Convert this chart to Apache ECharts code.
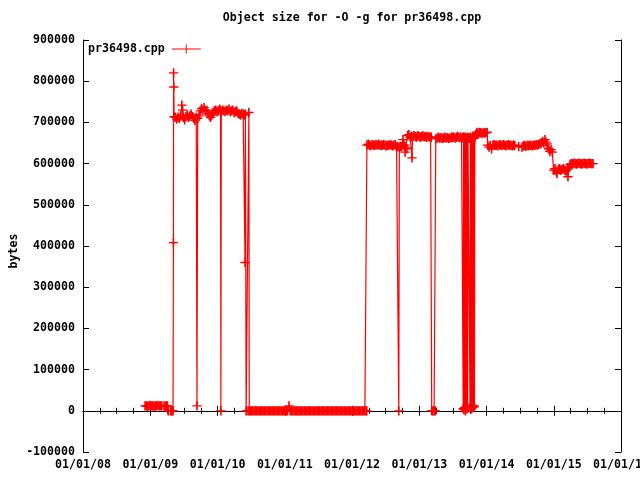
<!DOCTYPE html>
<html><head><meta charset="utf-8">
<script src="https://cdn.jsdelivr.net/npm/echarts@6/dist/echarts.min.js"></script>
<style>html,body{margin:0;padding:0;background:#fff;overflow:hidden;width:640px;height:480px}#c{width:640px;height:480px}</style>
</head><body><div id="c"></div>
<script>
// Each point: [days since 2008-01-01, object size in bytes]
const firstBuilds = [[337,12000],[344,12000],[351,11000],[358,12000],[365,13000],[372,12000],[379,12000],[386,11000],[393,12000],[400,12000],[407,13000],[414,12000],[421,12000],[428,12000],[440,12000],[447,11000],[454,12000],[459,12000],[463,0],[475,0],[480,0],[485,0],[489,0]];
const jump2009 = [[491,408000],[492,820000],[493,786000],[495,714000]];
const plateau2009 = [[502,712000],[509,708000],[516,713000],[523,710000],[530,716000],[537,742000],[541,730000],[545,712000],[552,706000],[559,714000],[566,718000],[573,712000],[580,716000],[587,720000],[594,714000],[601,710000],[608,705000],[615,712000],[619,12000],[623,710000],[630,716000],[637,728000],[644,734000],[651,730000],[658,736000],[665,728000],[672,730000],[679,721000],[686,716000],[693,712000],[700,718000],[707,724000],[714,728000],[721,730000],[728,726000],[735,728000],[742,732000],[747,728000],[749,0],[751,726000],[758,730000],[765,728000],[772,726000],[779,730000],[786,728000],[793,732000],[800,726000],[807,728000],[814,730000],[821,724000],[828,726000],[835,728000],[842,722000],[849,720000],[856,718000],[863,722000],[870,720000],[877,718000],[880,360000],[882,720000],[886,0],[896,0],[901,724000],[903,0]];
const zeros2010 = [[908,0],[915,0],[922,0],[929,0],[936,0],[943,0],[950,0],[957,0],[964,0],[971,0],[978,0],[985,0],[992,0],[999,0],[1006,0],[1013,0],[1020,0],[1027,0],[1034,0],[1041,0],[1048,0],[1055,0],[1062,0],[1069,0],[1076,0],[1083,0],[1090,0],[1097,0],[1104,0],[1111,0],[1119,12000],[1125,0],[1132,0],[1139,0],[1146,0],[1153,0],[1160,0],[1167,0],[1174,0],[1181,0],[1188,0],[1195,0],[1202,0],[1209,0],[1216,0],[1223,0],[1230,0],[1237,0],[1244,0],[1251,0],[1258,0],[1265,0],[1272,0],[1279,0],[1286,0],[1293,0],[1300,0],[1307,0],[1314,0],[1321,0],[1328,0],[1335,0],[1342,0],[1349,0],[1356,0],[1363,0],[1370,0],[1377,0],[1384,0],[1391,0],[1398,0],[1405,0],[1412,0],[1419,0],[1426,0],[1433,0],[1440,0],[1447,0],[1454,0],[1461,0],[1468,0],[1475,0],[1482,0],[1489,0],[1496,0],[1503,0],[1510,0],[1517,0],[1524,0],[1531,0],[1538,0],[1541,0]];
const plateau2012 = [[1542,645000],[1549,647000],[1556,645000],[1563,643000],[1570,646000],[1577,645000],[1584,644000],[1591,646000],[1598,645000],[1605,647000],[1612,645000],[1619,644000],[1626,645000],[1633,646000],[1640,645000],[1647,643000],[1654,645000],[1661,644000],[1668,646000],[1675,645000],[1682,643000],[1689,645000],[1696,646000],[1703,640000],[1710,642000],[1715,0],[1718,640000],[1725,642000],[1731,641000],[1738,658000],[1745,645000],[1749,628000],[1752,640000],[1759,636000],[1763,668000],[1770,670000],[1777,664000],[1784,666000],[1787,614000],[1790,664000],[1797,668000],[1804,666000],[1811,664000],[1818,668000],[1825,666000],[1832,664000],[1839,666000],[1846,667000],[1853,665000],[1860,666000],[1867,664000],[1874,666000],[1881,665000],[1888,663000],[1891,664000],[1894,0],[1900,0],[1907,0],[1914,0],[1916,660000]];
const plateau2013 = [[1923,662000],[1930,664000],[1937,662000],[1944,663000],[1951,661000],[1958,662000],[1965,664000],[1972,662000],[1979,663000],[1986,661000],[1993,662000],[2000,664000],[2007,663000],[2014,665000],[2021,662000],[2028,664000],[2035,666000],[2042,663000],[2049,665000],[2056,662000],[2063,664000]];
const oscill2013 = [[2065,5000],[2067,664000],[2069,3000],[2071,662000],[2073,8000],[2075,664000],[2077,0],[2079,660000],[2081,5000],[2083,662000],[2085,10000],[2087,664000],[2089,6000],[2091,662000],[2094,663000],[2097,661000],[2102,8000],[2104,664000],[2106,12000],[2108,662000],[2110,5000],[2112,660000],[2114,12000],[2116,664000],[2118,8000],[2120,662000],[2122,10000],[2124,664000],[2126,12000],[2128,662000]];
const peak2013 = [[2132,670000],[2139,676000],[2146,674000],[2153,676000],[2160,675000],[2167,673000],[2174,676000],[2181,674000],[2188,675000],[2195,676000],[2198,645000]];
const level2014 = [[2205,640000],[2212,644000],[2219,636000],[2226,645000],[2233,646000],[2240,644000],[2247,645000],[2254,643000],[2261,646000],[2268,645000],[2275,644000],[2282,646000],[2289,645000],[2296,643000],[2303,645000],[2310,646000],[2317,644000],[2324,645000],[2331,643000],[2338,645000],[2345,644000],[2366,641000],[2384,640000],[2391,643000],[2398,644000],[2405,642000],[2412,644000],[2419,643000],[2426,645000],[2433,644000],[2440,643000],[2447,645000],[2454,644000],[2461,646000],[2468,645000],[2475,647000],[2482,648000],[2489,650000],[2496,654000],[2503,650000],[2509,658000],[2514,652000],[2521,648000]];
const drop2015 = [[2528,636000],[2535,630000],[2542,634000],[2549,628000],[2556,584000],[2563,588000],[2570,582000],[2574,576000],[2581,586000],[2588,588000],[2595,584000],[2602,586000],[2609,588000],[2616,584000],[2623,582000],[2630,586000],[2634,568000],[2638,590000],[2645,598000],[2652,600000],[2659,599000],[2666,601000],[2673,600000],[2680,599000],[2687,600000],[2694,601000],[2701,600000],[2708,599000],[2715,600000],[2722,601000],[2729,600000],[2736,599000],[2743,600000],[2750,601000],[2757,600000],[2764,600000],[2770,600000]];

const seriesName = 'pr36498.cpp';
const yTicks = {min: -100000, max: 900000, step: 100000};

const allPoints = [].concat(firstBuilds, jump2009, plateau2009, zeros2010, plateau2012, plateau2013, oscill2013, peak2013, level2014, drop2015);
const toTime = d => new Date(2008, 0, 1 + d).getTime();
const data = allPoints.map(p => [toTime(p[0]), p[1]]);

const FONT = 'DejaVu Sans Mono';
const txt = {fontFamily: FONT, fontWeight: 'bold', fontSize: 11.6, color: '#000'};
const pad = n => (n < 10 ? '0' : '') + n;
const fmtDate = v => { const d = new Date(v); return pad(d.getMonth() + 1) + '/' + pad(d.getDate()) + '/' + pad(d.getFullYear() % 100); };
const xMin = new Date(2008, 0, 1).getTime(), xMax = new Date(2016, 0, 1).getTime();
const line = {show: true, lineStyle: {color: '#000', width: 1}};
const plus = 'path://M38,0H54V39H92V52H54V91H38V52H0V39H38Z';

const chart = echarts.init(document.getElementById('c'), null, {renderer: 'canvas', width: 640, height: 480});
chart.setOption({
  animation: false,
  backgroundColor: '#fff',
  grid: {left: 83, right: 19, top: 40, bottom: 28, containLabel: false, outerBoundsMode: 'none'},
  graphic: [
    {type: 'text', x: 352, y: 18, style: {text: 'Object size for -O -g for ' + seriesName, font: 'bold 11.6px "DejaVu Sans Mono"', fill: '#000', align: 'center', verticalAlign: 'middle'}},
    {type: 'text', x: 14, y: 251, rotation: Math.PI / 2, style: {text: 'bytes', font: 'bold 11.6px "DejaVu Sans Mono"', fill: '#000', align: 'center', verticalAlign: 'middle'}}
  ],
  legend: {
    left: 88, top: 43, align: 'right', itemWidth: 33, itemHeight: 9, padding: 0,
    textStyle: txt,
    data: [{name: seriesName, icon: 'path://M0,4H14V0H15V4H29V5H15V9H14V5H0Z'}]
  },
  xAxis: [
    {type: 'time', min: xMin, max: xMax, splitNumber: 8, position: 'bottom',
     axisLine: line, axisTick: {show: true, inside: true, length: 5, lineStyle: {color: '#000'}},
     minorTick: {show: true, splitNumber: 4, length: 3, lineStyle: {color: '#000'}},
     axisLabel: Object.assign({formatter: fmtDate, margin: 7, showMinLabel: true, showMaxLabel: true, hideOverlap: false}, txt),
     splitLine: {show: false}},
    {type: 'time', min: xMin, max: xMax, splitNumber: 8, position: 'top',
     axisLine: line, axisTick: {show: true, inside: true, length: 5, lineStyle: {color: '#000'}},
     minorTick: {show: true, splitNumber: 4, length: 3, lineStyle: {color: '#000'}},
     axisLabel: {show: false}, splitLine: {show: false}}
  ],
  yAxis: [
    {type: 'value', min: yTicks.min, max: yTicks.max, interval: yTicks.step, position: 'left',
     axisLine: line, axisTick: {show: true, inside: true, length: 6, lineStyle: {color: '#000'}},
     axisLabel: Object.assign({margin: 8, formatter: v => String(v)}, txt), splitLine: {show: false}},
    {type: 'value', min: yTicks.min, max: yTicks.max, interval: yTicks.step, position: 'right',
     axisLine: line, axisTick: {show: true, inside: true, length: 6, lineStyle: {color: '#000'}},
     axisLabel: {show: false}, splitLine: {show: false}}
  ],
  series: [{
    name: seriesName, type: 'line', xAxisIndex: 0, yAxisIndex: 0,
    data: data, symbol: plus, symbolSize: 9.3, showSymbol: true,
    lineStyle: {color: '#ff0000', width: 1.2}, itemStyle: {color: '#ff0000'},
    emphasis: {disabled: true}, silent: true
  }]
});
</script></body></html>
